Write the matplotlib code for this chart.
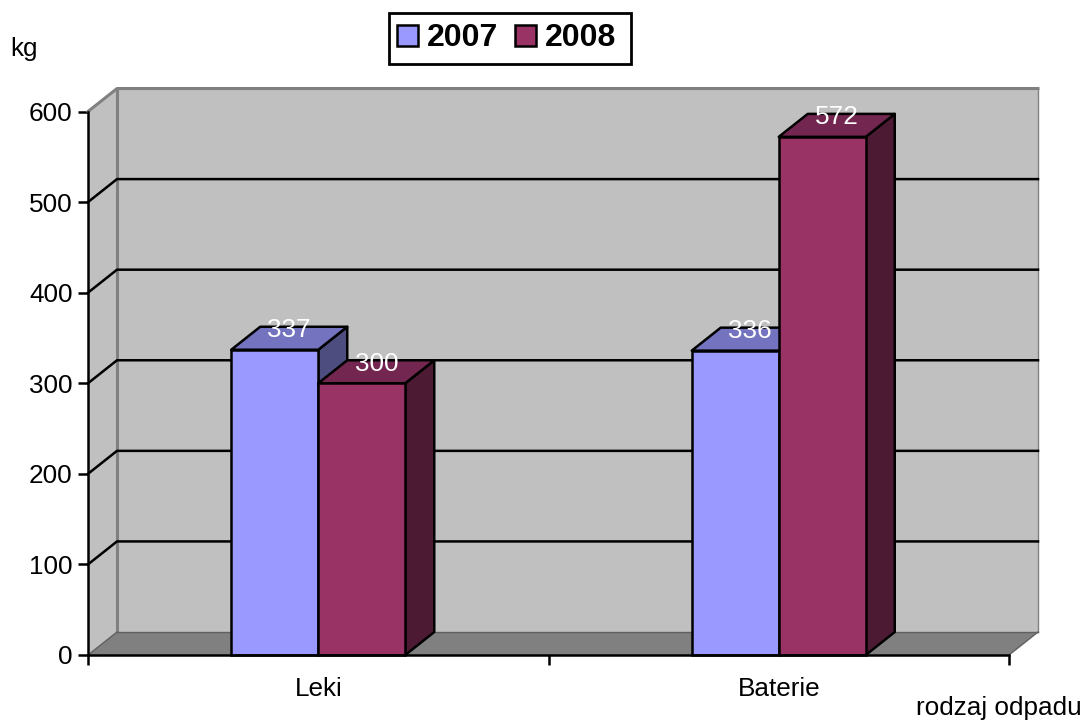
import matplotlib
matplotlib.use("Agg")
import matplotlib.pyplot as plt
from matplotlib.patches import Polygon, Patch, Rectangle

plt.rcParams["font.family"] = ["Liberation Sans", "DejaVu Sans"]

categories = ["Leki", "Baterie"]
years = ["2007", "2008"]
values_2007 = [337, 336]
values_2008 = [300, 572]
y_ticks = [0, 100, 200, 300, 400, 500, 600]

front_2007, top_2007, side_2007 = "#9999FF", "#7373BF", "#4D4D80"
front_2008, top_2008, side_2008 = "#993366", "#732650", "#4D1A33"
wall = "#C0C0C0"
floor = "#808080"
lw = 1.8
fs = 18.8

fig = plt.figure(figsize=(10.85, 7.2), dpi=100)
ax = fig.add_axes([88 / 1085, 65 / 720, 921 / 1085, 543.5 / 720])
ax.set_xlim(0, 2)
ax.set_ylim(0, 600)
ax.patch.set_visible(False)

# depth of the fake 3d box, in data units (29 px across, 23 px up)
dx = 29 / 921 * 2
dy = 23 / 544 * 600
bar_w = 87 / 921 * 2


def poly(pts, color, edge="none", width=0, z=1):
    ax.add_patch(Polygon(pts, closed=True, facecolor=color, edgecolor=edge,
                         linewidth=width, zorder=z, clip_on=False, joinstyle="round"))


# walls and floor
poly([(0, 0), (dx, dy), (dx, 600 + dy), (0, 600)], wall, z=1)
poly([(dx, dy), (2 + dx, dy), (2 + dx, 600 + dy), (dx, 600 + dy)], wall, z=1)
poly([(0, 0), (2, 0), (2 + dx, dy), (dx, dy)], floor, z=1)

ax.plot([0, dx, 2 + dx], [600, 600 + dy, 600 + dy], color=floor, lw=2.2, zorder=2, clip_on=False)
ax.plot([dx, dx], [dy, 600 + dy], color=floor, lw=2.2, zorder=2, clip_on=False)
ax.plot([2 + dx, 2 + dx], [dy, 600 + dy], color=floor, lw=1, zorder=2, clip_on=False)
ax.plot([0, dx], [0, dy], color="#606060", lw=1, zorder=2, clip_on=False)
ax.plot([dx, 2 + dx], [dy, dy], color="#606060", lw=1, zorder=2, clip_on=False)
ax.plot([2, 2 + dx], [0, dy], color="#606060", lw=1, zorder=2, clip_on=False)

# grid lines run along the side wall and the back wall
for t in y_ticks[1:-1]:
    ax.plot([0, dx, 2 + dx], [t, t + dy, t + dy], color="black", lw=lw, zorder=3,
            clip_on=False, solid_joinstyle="miter")

z = 4
for i, cat in enumerate(categories):
    center = i + 0.5
    series = [(values_2007[i], center - bar_w, front_2007, top_2007, side_2007),
              (values_2008[i], center, front_2008, top_2008, side_2008)]
    for val, left, c_front, c_top, c_side in series:
        right = left + bar_w
        poly([(right, 0), (right + dx, dy), (right + dx, val + dy), (right, val)],
             c_side, "black", lw, z)
        poly([(left, val), (right, val), (right + dx, val + dy), (left + dx, val + dy)],
             c_top, "black", lw, z)
        ax.bar(left, val, bar_w, align="edge", color=c_front, edgecolor="black",
               linewidth=lw, zorder=z, clip_on=False)
        z += 1

# value labels sit on the bar tops
for i in range(len(categories)):
    center = i + 0.5
    for val, left in [(values_2007[i], center - bar_w), (values_2008[i], center)]:
        ax.text(left + (bar_w + dx) / 2, val + dy / 2 + 9, str(val), color="white",
                fontsize=fs, ha="center", va="center", zorder=20)

for s in ["top", "right"]:
    ax.spines[s].set_visible(False)
for s in ["left", "bottom"]:
    ax.spines[s].set_linewidth(lw)
    ax.spines[s].set_zorder(15)

ax.set_yticks(y_ticks)
ax.tick_params(axis="y", length=7.5, width=lw, labelsize=fs, pad=3.5)
ax.set_xticks([0, 1, 2])
ax.set_xticklabels([])
ax.set_xticks([0.5, 1.5], minor=True)
ax.set_xticklabels(categories, minor=True, fontsize=fs)
ax.tick_params(axis="x", which="major", length=7.5, width=lw)
ax.tick_params(axis="x", which="minor", length=0, pad=16)

fig.text(10 / 1085, 1 - 49 / 720, "kg", fontsize=fs, ha="left", va="center")
fig.text(916 / 1085, 1 - 708 / 720, "rodzaj odpadu", fontsize=fs, ha="left", va="center")

# legend frame is drawn separately so its box can be sized on its own
fig.add_artist(Rectangle((388.5 / 1085, 1 - 64 / 720), 242 / 1085, 51 / 720,
                         transform=fig.transFigure, facecolor="white",
                         edgecolor="black", linewidth=2))
handles = [Patch(facecolor=front_2007, edgecolor="black", linewidth=lw),
           Patch(facecolor=front_2008, edgecolor="black", linewidth=lw)]
leg = fig.legend(handles, years, loc="center", bbox_to_anchor=(506.5 / 1085, 1 - 38.5 / 720),
                 ncol=2, prop={"weight": "bold", "size": 23}, frameon=False,
                 handlelength=0.66, handleheight=0.66, handletextpad=0.27,
                 columnspacing=0.55, borderpad=0, borderaxespad=0)
leg.set_zorder(30)

fig.savefig("out.png", dpi=100)
